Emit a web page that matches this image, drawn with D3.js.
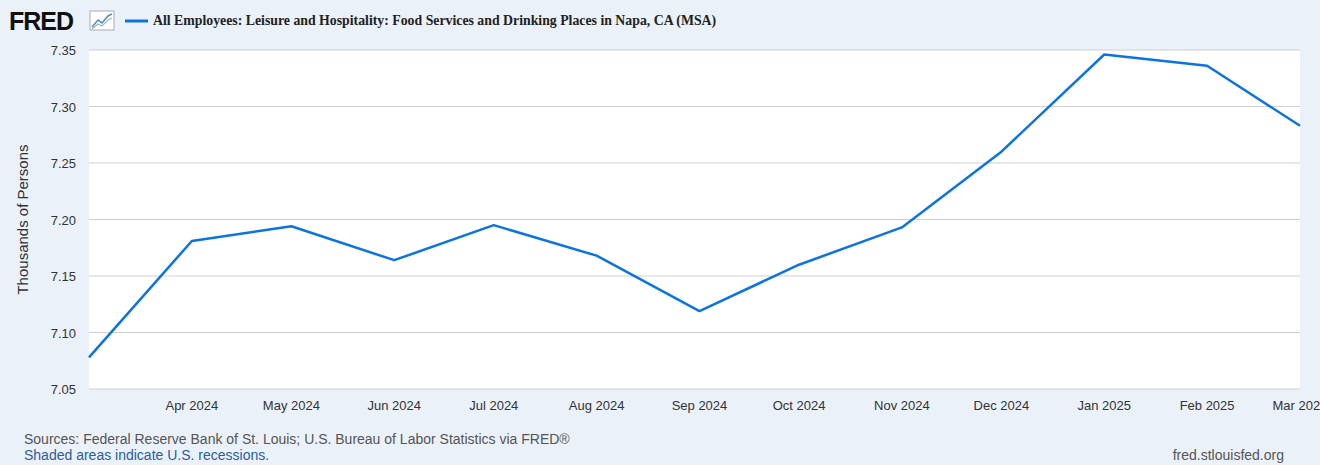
<!DOCTYPE html>
<html><head><meta charset="utf-8">
<script src="https://cdn.jsdelivr.net/npm/d3@7"></script>
<style>body{margin:0;background:#eaf1f9;font-family:"Liberation Sans",Arial,sans-serif}</style>
</head><body><svg id="c" width="1320" height="465"></svg>
<script>
const dates=["2024-03-01","2024-04-01","2024-05-01","2024-06-01","2024-07-01","2024-08-01","2024-09-01","2024-10-01","2024-11-01","2024-12-01","2025-01-01","2025-02-01","2025-03-01"];
const values=[7.078,7.181,7.194,7.164,7.195,7.168,7.119,7.160,7.193,7.260,7.346,7.336,7.283];
const yTicks=[7.05,7.10,7.15,7.20,7.25,7.30,7.35];
const title="All Employees: Leisure and Hospitality: Food Services and Drinking Places in Napa, CA (MSA)";
const pd=d3.utcParse("%Y-%m-%d");
const data=dates.map((d,i)=>({d:pd(d),v:values[i]}));
const svg=d3.select("#c");
svg.append("rect").attr("width",1320).attr("height",465).attr("fill","#eaf1f9");
const L=89,R=1300,T=50,B=389;
const x=d3.scaleUtc().domain([data[0].d,data[data.length-1].d]).range([L,R]);
const y=d3.scaleLinear().domain([7.05,7.35]).range([B,T]);
svg.append("rect").attr("x",L).attr("y",T).attr("width",R-L).attr("height",B-T).attr("fill","#fff");
const g=svg.append("g").attr("font-size",13).attr("fill","#333");
yTicks.forEach(t=>{
  if(t>7.05) g.append("line").attr("x1",L).attr("x2",R).attr("y1",y(t)).attr("y2",y(t)).attr("stroke","#d0d0d0");
  g.append("text").attr("x",L-13).attr("y",y(t)+5).attr("text-anchor","end").attr("fill","#333").text(t.toFixed(2));
});
g.append("line").attr("x1",L).attr("x2",R).attr("y1",B).attr("y2",B).attr("stroke","#d0d0d0");
const fmt=d3.utcFormat("%b %Y");
data.slice(1).forEach(p=>{
  g.append("text").attr("x",x(p.d)).attr("y",410).attr("text-anchor","middle").attr("fill","#333").text(fmt(p.d));
});
svg.append("text").attr("transform",`translate(28,${(T+B)/2}) rotate(-90)`).attr("text-anchor","middle").attr("font-size",15).attr("fill","#333").text("Thousands of Persons");
svg.append("path").datum(data).attr("fill","none").attr("stroke","#0b74e0").attr("stroke-width",2.5).attr("stroke-linejoin","round")
  .attr("d",d3.line().x(p=>x(p.d)).y(p=>y(p.v)));
svg.append("text").attr("x",9).attr("y",30).attr("font-size",25).attr("font-weight","bold").attr("fill","#111").attr("letter-spacing",-1).text("FRED");
const ic=svg.append("g").attr("transform","translate(90,11)");
ic.append("rect").attr("width",24).attr("height",19).attr("fill","#fff").attr("stroke","#aab");
ic.append("path").attr("d","M2,16 L8,9 L12,12 L18,5 L22,3").attr("fill","none").attr("stroke","#5a8fb8").attr("stroke-width",1.6);
ic.append("path").attr("d","M2,18 L8,13 L12,15 L18,9 L22,7").attr("fill","none").attr("stroke","#9bb").attr("stroke-width",1.2);
svg.append("line").attr("x1",125).attr("x2",148).attr("y1",21).attr("y2",21).attr("stroke","#0b74e0").attr("stroke-width",3);
svg.append("text").attr("x",153).attr("y",25).attr("font-family","Liberation Serif,Times New Roman,serif").attr("font-weight","bold").attr("font-size",13.8).attr("fill","#222").text(title);
svg.append("text").attr("x",24).attr("y",444).attr("font-size",14).attr("fill","#555").text("Sources: Federal Reserve Bank of St. Louis; U.S. Bureau of Labor Statistics via FRED®");
svg.append("text").attr("x",24).attr("y",460).attr("font-size",14).attr("fill","#2a5d9f").text("Shaded areas indicate U.S. recessions.");
svg.append("text").attr("x",1284).attr("y",460).attr("text-anchor","end").attr("font-size",14).attr("fill","#555").text("fred.stlouisfed.org");
</script></body></html>
